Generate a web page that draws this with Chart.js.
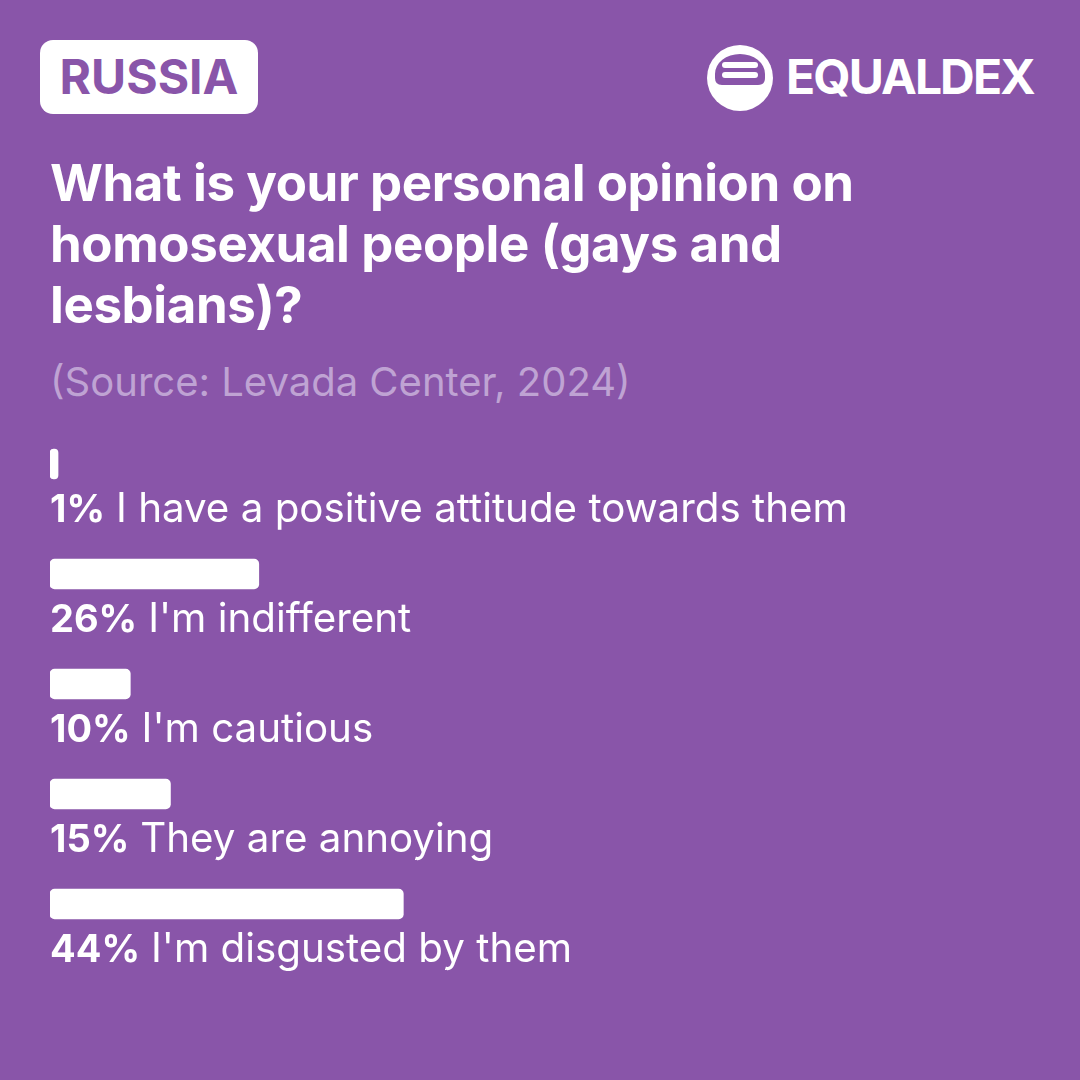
<!DOCTYPE html>
<html>
<head>
<meta charset="utf-8">
<script src="https://cdn.jsdelivr.net/npm/chart.js@4"></script>
<style>
  html, body { margin: 0; padding: 0; background: #8955a9; }
  #wrap { position: relative; width: 1080px; height: 1080px; background: #8955a9; overflow: hidden; font-family: Inter, "Noto Sans", sans-serif; }
  #country {
    position: absolute; left: 40px; top: 40px; width: 218px; height: 74px;
    background: #fff; border-radius: 13px; color: #8955a9;
    font-weight: 700; font-size: 48px; line-height: 74px; text-align: center;
  }
  #logo { position: absolute; left: 706px; top: 44px; }
  #brand {
    position: absolute; left: 786px; top: 46px; color: #fff;
    font-weight: 700; font-size: 48px; line-height: 62px; letter-spacing: -1.9px;
  }
  #title {
    position: absolute; left: 50px; top: 152px; width: 960px; color: #fff;
    font-weight: 700; font-size: 51px; line-height: 61px; letter-spacing: -0.4px;
  }
  #source {
    position: absolute; left: 50px; top: 358px; color: #bfa3d3;
    font-size: 40px; line-height: 48px;
  }
  #chartBox { position: absolute; left: 0; top: 0; width: 1080px; height: 1080px; }
</style>
</head>
<body>
<div id="wrap">
  <div id="country">RUSSIA</div>
  <svg id="logo" width="68" height="68" viewBox="0 0 68 68">
    <circle cx="34" cy="34" r="33" fill="#fff"/>
    <path d="M9 30 A25 20 0 0 1 59 30 L59 34 Q59 41 52 41 L16 41 Q9 41 9 34 Z" fill="#8955a9"/>
    <rect x="16" y="18" width="36" height="6" rx="3" fill="#fff"/>
    <rect x="16" y="28" width="36" height="6" rx="3" fill="#fff"/>
  </svg>
  <div id="brand">EQUALDEX</div>
  <div id="title">What is your personal opinion on<br>homosexual people (gays and<br>lesbians)?</div>
  <div id="source">(Source: Levada Center, 2024)</div>
  <div id="chartBox"><canvas id="pollChart"></canvas></div>
</div>
<script>
const answers = [
  'I have a positive attitude towards them',
  "I'm indifferent",
  "I'm cautious",
  'They are annoying',
  "I'm disgusted by them"
];
const shares = [1, 26, 10, 15, 44];
const scaleMax = 100;

// percent in bold, answer text after it, under each bar
const barLabels = {
  id: 'barLabels',
  afterDatasetsDraw(chart) {
    const { ctx } = chart;
    const meta = chart.getDatasetMeta(0);
    ctx.save();
    ctx.fillStyle = '#fff';
    ctx.textBaseline = 'alphabetic';
    ctx.textAlign = 'left';
    meta.data.forEach((bar, i) => {
      const x = chart.chartArea.left;
      const y = bar.y + bar.height / 2 + 43;
      ctx.font = '700 38px Inter';
      const pct = shares[i] + '%';
      ctx.fillText(pct, x, y);
      const w = ctx.measureText(pct).width + 11;
      ctx.font = '400 40.3px Inter';
      ctx.fillText(answers[i], x + w, y);
    });
    ctx.restore();
  }
};

new Chart(document.getElementById('pollChart'), {
  type: 'bar',
  data: {
    labels: answers,
    datasets: [{
      data: shares,
      backgroundColor: '#ffffff',
      borderRadius: 5,
      borderSkipped: false,
      barThickness: 30
    }]
  },
  options: {
    indexAxis: 'y',
    responsive: true,
    maintainAspectRatio: false,
    animation: false,
    layout: { padding: { left: 50, right: 227, top: 409, bottom: 121 } },
    plugins: { legend: { display: false }, tooltip: { enabled: false } },
    scales: {
      x: { display: false, min: 0, max: scaleMax },
      y: { display: false }
    }
  },
  plugins: [barLabels]
});
</script>
</body>
</html>
